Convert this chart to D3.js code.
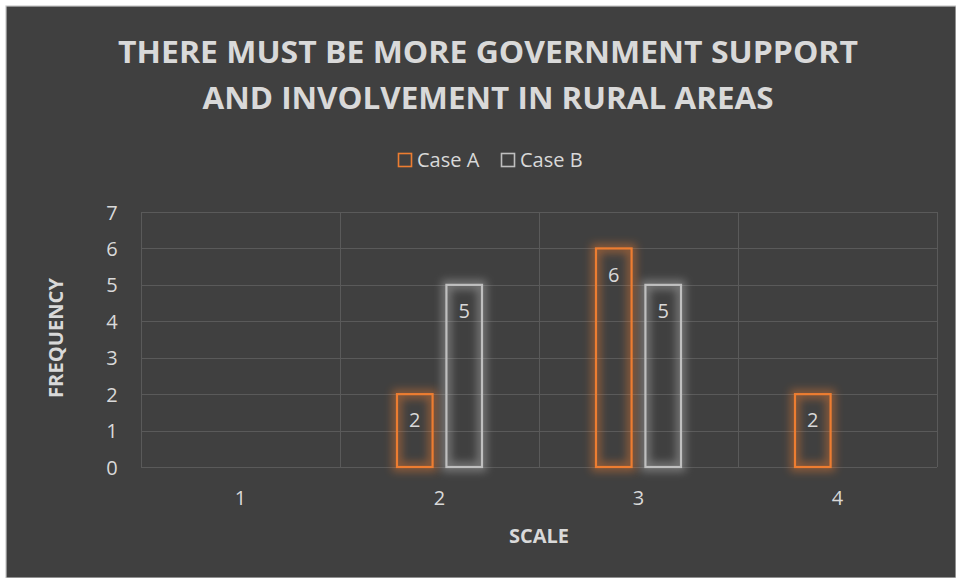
<!DOCTYPE html>
<html>
<head>
<meta charset="utf-8">
<script src="https://cdn.jsdelivr.net/npm/d3@7"></script>
<style>
  html, body { margin: 0; padding: 0; background: #fff; }
  svg { display: block; }
  text { font-family: "Open Sans", "Noto Sans", sans-serif; }
</style>
</head>
<body>
<svg id="chart" width="956" height="578"></svg>
<script>
const categories = ["1", "2", "3", "4"];
const seriesNames = ["Case A", "Case B"];
const caseA = [0, 2, 6, 2];
const caseB = [0, 5, 5, 0];
const yTicks = [0, 1, 2, 3, 4, 5, 6, 7];
const titleLines = ["THERE MUST BE MORE GOVERNMENT SUPPORT", "AND INVOLVEMENT IN RURAL AREAS"];

const colors = {"Case A": "#ED7D31", "Case B": "#BFBFBF"};
const textColor = "#d9d9d9";

function drawChart(svgId, [width, height] = [956, 578]) {
    const svg = d3.select(svgId);
    svg.selectAll("*").remove();

    const defs = svg.append("defs");
    const glow = defs.append("filter").attr("id", "glow")
        .attr("x", "-50%").attr("y", "-50%").attr("width", "200%").attr("height", "200%");
    glow.append("feGaussianBlur").attr("stdDeviation", 4).attr("result", "blur");

    // background panel with a thin light frame
    svg.append("rect").attr("x", 6).attr("y", 6).attr("width", width - 6).attr("height", height - 6)
        .attr("fill", "#404040").attr("stroke", "#c8c8c8").attr("stroke-width", 1.2);

    const margin = {top: 212, right: 19, bottom: 111, left: 141};
    const plotW = width - margin.left - margin.right;
    const plotH = height - margin.top - margin.bottom;
    const g = svg.append("g").attr("transform", `translate(${margin.left},${margin.top})`);

    const x = d3.scaleBand().domain(categories).range([0, plotW]);
    const x1 = d3.scaleBand().domain(seriesNames).range([57, x.bandwidth() - 57]).paddingInner(0.28);
    const y = d3.scaleLinear().domain([0, 7]).range([plotH, 0]);

    // grid
    g.append("g").selectAll("line.h").data(yTicks).enter().append("line")
        .attr("x1", 0).attr("x2", plotW)
        .attr("y1", d => Math.round(y(d)) + 0.5).attr("y2", d => Math.round(y(d)) + 0.5)
        .attr("stroke", "#5a5a5a").attr("stroke-width", 1);
    g.append("g").selectAll("line.v").data(d3.range(categories.length + 1)).enter().append("line")
        .attr("x1", i => Math.round(i * x.bandwidth()) + 0.5).attr("x2", i => Math.round(i * x.bandwidth()) + 0.5)
        .attr("y1", 0).attr("y2", plotH)
        .attr("stroke", "#5a5a5a").attr("stroke-width", 1);

    // y axis labels
    const yAxis = g.append("g").call(d3.axisLeft(y).tickValues(yTicks).tickFormat(d3.format("d"))
        .tickSize(0).tickPadding(29));
    yAxis.select(".domain").remove();
    yAxis.selectAll("text").attr("fill", textColor).attr("font-size", 20)
        .attr("text-anchor", "middle").attr("dy", "0.35em");

    // x axis labels
    const xAxis = g.append("g").attr("transform", `translate(0,${plotH})`)
        .call(d3.axisBottom(x).tickSize(0).tickPadding(24));
    xAxis.select(".domain").remove();
    xAxis.selectAll("text").attr("fill", textColor).attr("font-size", 20);

    // bars
    const data = [];
    categories.forEach((c, i) => {
        if (caseA[i] > 0) data.push({cat: c, series: "Case A", value: caseA[i]});
        if (caseB[i] > 0) data.push({cat: c, series: "Case B", value: caseB[i]});
    });
    const bars = g.append("g").selectAll("g").data(data).enter().append("g")
        .attr("transform", d => `translate(${x(d.cat) + x1(d.series)},0)`);
    bars.append("rect")
        .attr("x", 0).attr("y", d => y(d.value))
        .attr("width", x1.bandwidth()).attr("height", d => plotH - y(d.value))
        .attr("fill", "none").attr("stroke", d => colors[d.series]).attr("stroke-width", 9)
        .attr("opacity", 0.45).attr("filter", "url(#glow)");
    bars.append("rect")
        .attr("x", 0).attr("y", d => y(d.value))
        .attr("width", x1.bandwidth()).attr("height", d => plotH - y(d.value))
        .attr("fill", "none").attr("stroke", d => colors[d.series]).attr("stroke-width", 2.2);
    bars.append("text")
        .attr("x", x1.bandwidth() / 2).attr("y", d => y(d.value) + 28)
        .attr("text-anchor", "middle").attr("dominant-baseline", "middle")
        .attr("fill", textColor).attr("font-size", 20)
        .text(d => d.value);

    // title
    svg.append("g").selectAll("text").data(titleLines).enter().append("text")
        .attr("x", 488).attr("y", (d, i) => 63 + i * 46)
        .attr("text-anchor", "middle").attr("fill", textColor)
        .attr("font-size", 31).attr("font-weight", "bold")
        .attr("textLength", (d, i) => i === 0 ? 740 : 571).attr("lengthAdjust", "spacingAndGlyphs")
        .text(d => d);

    // legend
    const legendX = [398, 501];
    const legend = svg.append("g").selectAll("g").data(seriesNames).enter().append("g")
        .attr("transform", (d, i) => `translate(${legendX[i]},153)`);
    legend.append("rect").attr("x", 0.5).attr("y", 0.5).attr("width", 13).attr("height", 13)
        .attr("fill", "none").attr("stroke", d => colors[d]).attr("stroke-width", 1.6);
    legend.append("text").attr("x", 19).attr("y", 14)
        .attr("fill", textColor).attr("font-size", 20).text(d => d);

    // axis titles
    svg.append("text").attr("x", margin.left + plotW / 2).attr("y", 543)
        .attr("text-anchor", "middle").attr("fill", textColor)
        .attr("font-size", 19).attr("font-weight", "bold")
        .attr("textLength", 60).attr("lengthAdjust", "spacingAndGlyphs").text("SCALE");
    svg.append("text").attr("transform", "translate(63,338) rotate(-90)")
        .attr("text-anchor", "middle").attr("fill", textColor)
        .attr("font-size", 19).attr("font-weight", "bold")
        .attr("textLength", 120).attr("lengthAdjust", "spacingAndGlyphs").text("FREQUENCY");
}

drawChart("#chart");
</script>
</body>
</html>
